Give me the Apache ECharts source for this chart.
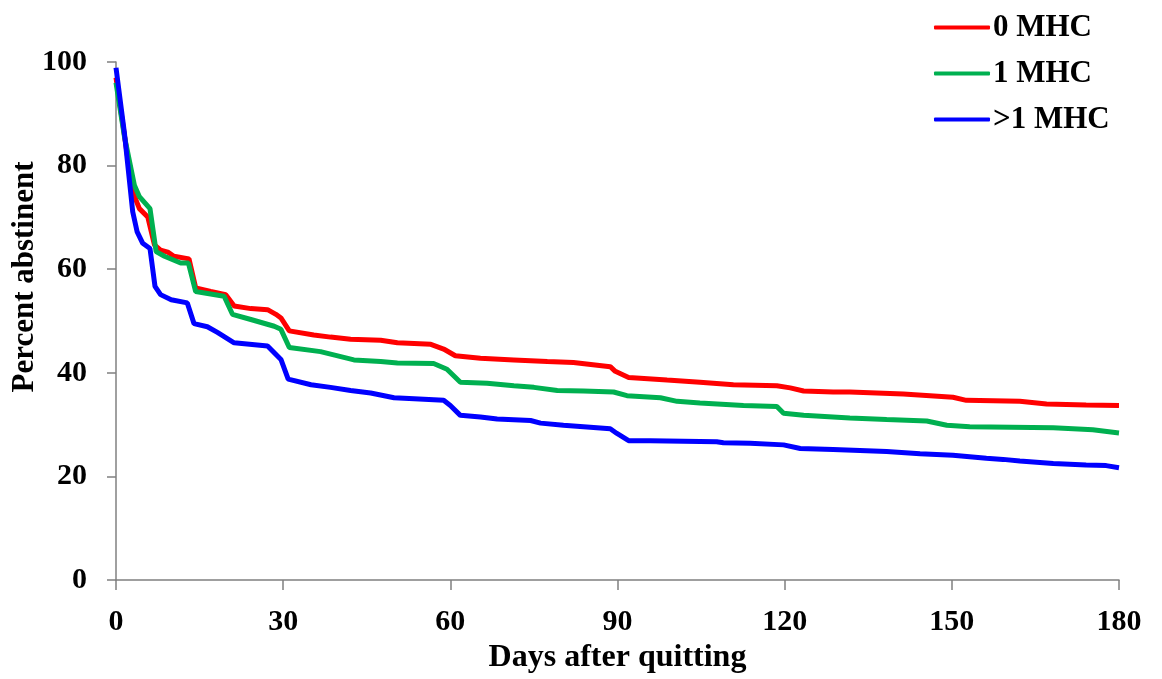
<!DOCTYPE html>
<html>
<head>
<meta charset="utf-8">
<script src="https://cdn.jsdelivr.net/npm/echarts@6/dist/echarts.min.js"></script>
<style>
  html, body { margin: 0; padding: 0; background: #fff; }
  #chart { width: 1162px; height: 679px; }
</style>
</head>
<body>
<div id="chart"></div>
<script>
// series names
const seriesNames = ['0 MHC', '1 MHC', '>1 MHC']

// [day, percent abstinent]
const zeroMhc = [
  [0, 97], [1.5, 86], [3, 74.9], [4.2, 71.7], [5.7, 70.1], [6.9, 64.7], [8, 63.7], [9.3, 63.3],
  [10.4, 62.5], [13.1, 62.0], [14.3, 56.4], [17, 55.7], [19.7, 55.1], [21.2, 52.9], [24.2, 52.4],
  [27.2, 52.2], [28.7, 51.3], [29.6, 50.6], [31.1, 48.1], [35.5, 47.3], [38.5, 46.9], [42.1, 46.5],
  [47.5, 46.3], [50.5, 45.8], [56.5, 45.5], [58.8, 44.6], [60.9, 43.3], [65.4, 42.8], [71.4, 42.5],
  [77.4, 42.2], [82.1, 42.0], [88.7, 41.2], [89.6, 40.3], [92, 39.1], [98.9, 38.6], [104.8, 38.2],
  [110.8, 37.7], [118.6, 37.5], [121, 37.1], [123.4, 36.5], [128.7, 36.3], [131.7, 36.3],
  [141.3, 35.9], [150.2, 35.3], [152.6, 34.7], [162.2, 34.5], [167, 34.0], [174.1, 33.8], [180, 33.7]
]

const oneMhc = [
  [0, 96], [1.5, 85.7], [3.3, 76.2], [4.2, 74.0], [6.1, 71.7], [7.2, 63.4], [8.7, 62.5], [11.6, 61.2],
  [13, 61.2], [14.3, 55.7], [19.4, 54.8], [20.9, 51.3], [24.2, 50.3], [28.4, 49.0], [29.6, 48.4],
  [31.1, 44.9], [36.7, 44.1], [42.7, 42.5], [47.5, 42.2], [50.5, 41.9], [57, 41.8], [59.4, 40.7],
  [61.8, 38.2], [66.6, 38.0], [71.4, 37.5], [75, 37.2], [79.2, 36.6], [83.9, 36.5], [89.3, 36.3],
  [91.7, 35.6], [97.7, 35.2], [100.7, 34.5], [104.8, 34.2], [112.6, 33.7], [118.6, 33.5],
  [119.8, 32.2], [123.4, 31.8], [131.7, 31.3], [138.3, 31.0], [145.5, 30.7], [149.1, 29.9],
  [153.2, 29.6], [168.2, 29.4], [175.3, 29.0], [180, 28.4]
]

const moreMhc = [
  [0, 98.9], [1.5, 86.4], [3, 71.1], [3.8, 67.2], [4.8, 65], [6.1, 64], [7, 56.7], [8, 55.1],
  [9.9, 54.1], [12.8, 53.5], [14, 49.5], [16.4, 48.9], [18.2, 47.8], [21.2, 45.8], [27.2, 45.2],
  [29.6, 42.6], [30.9, 38.8], [35, 37.7], [38.5, 37.2], [42.1, 36.6], [45.7, 36.1], [49.9, 35.2],
  [53.5, 35.0], [58.8, 34.7], [60, 33.7], [61.8, 31.8], [65.4, 31.5], [68.4, 31.1], [74.4, 30.8],
  [76.2, 30.3], [80.3, 29.9], [83.9, 29.6], [88.7, 29.2], [89.9, 28.3], [92, 26.9], [95.9, 26.9],
  [107.8, 26.7], [109, 26.5], [113.8, 26.4], [119.8, 26.1], [122.8, 25.4], [128.7, 25.2],
  [138.3, 24.8], [144.3, 24.4], [150.2, 24.1], [156.2, 23.5], [159.2, 23.3], [162.2, 23.0],
  [168.2, 22.5], [174.1, 22.2], [177.7, 22.1], [180, 21.7]
]

const colors = ['#ff0000', '#00b050', '#0000ff']

const font = 'Liberation Serif'
const axisColor = '#808080'

const myChart = echarts.init(document.getElementById('chart'))

const option = {
  backgroundColor: '#fff',
  animation: false,
  color: colors,
  textStyle: { fontFamily: font },
  grid: {
    left: 116,
    right: 43,
    top: 62,
    bottom: 95
  },
  // y axis title sits a bit above the middle of the axis, so it is drawn here
  graphic: [
    {
      type: 'text',
      x: 25,
      y: 277,
      rotation: Math.PI / 2,
      style: {
        text: 'Percent abstinent',
        fontFamily: font,
        fontWeight: 'bold',
        fontSize: 31,
        fill: '#000',
        align: 'center',
        verticalAlign: 'middle'
      }
    }
  ],
  legend: {
    orient: 'vertical',
    left: 929,
    top: 7,
    itemWidth: 56,
    itemHeight: 4,
    itemGap: 15,
    icon: 'roundRect',
    data: seriesNames,
    textStyle: {
      fontFamily: font,
      fontWeight: 'bold',
      fontSize: 31,
      color: '#000',
      padding: [0, 0, 0, -2]
    }
  },
  xAxis: {
    type: 'value',
    min: 0,
    max: 180,
    interval: 30,
    name: 'Days after quitting',
    nameLocation: 'middle',
    nameGap: 61,
    nameTextStyle: { fontFamily: font, fontWeight: 'bold', fontSize: 32, color: '#000' },
    axisLine: { show: true, lineStyle: { color: axisColor, width: 1.5 } },
    axisTick: { show: true, length: 10, lineStyle: { color: axisColor, width: 1.5 } },
    axisLabel: { margin: 27, fontFamily: font, fontWeight: 'bold', fontSize: 30, color: '#000' },
    splitLine: { show: false }
  },
  yAxis: {
    type: 'value',
    min: 0,
    max: 100,
    interval: 20,
    axisLine: { show: true, lineStyle: { color: axisColor, width: 1.5 } },
    axisTick: { show: true, length: 9, lineStyle: { color: axisColor, width: 1.5 } },
    axisLabel: { margin: 29, fontFamily: font, fontWeight: 'bold', fontSize: 30, color: '#000' },
    splitLine: { show: false }
  },
  series: [
    { name: seriesNames[0], type: 'line', data: zeroMhc, showSymbol: false, lineStyle: { width: 5 } },
    { name: seriesNames[1], type: 'line', data: oneMhc, showSymbol: false, lineStyle: { width: 5 } },
    { name: seriesNames[2], type: 'line', data: moreMhc, showSymbol: false, lineStyle: { width: 5 } }
  ]
}

myChart.setOption(option)
</script>
</body>
</html>
